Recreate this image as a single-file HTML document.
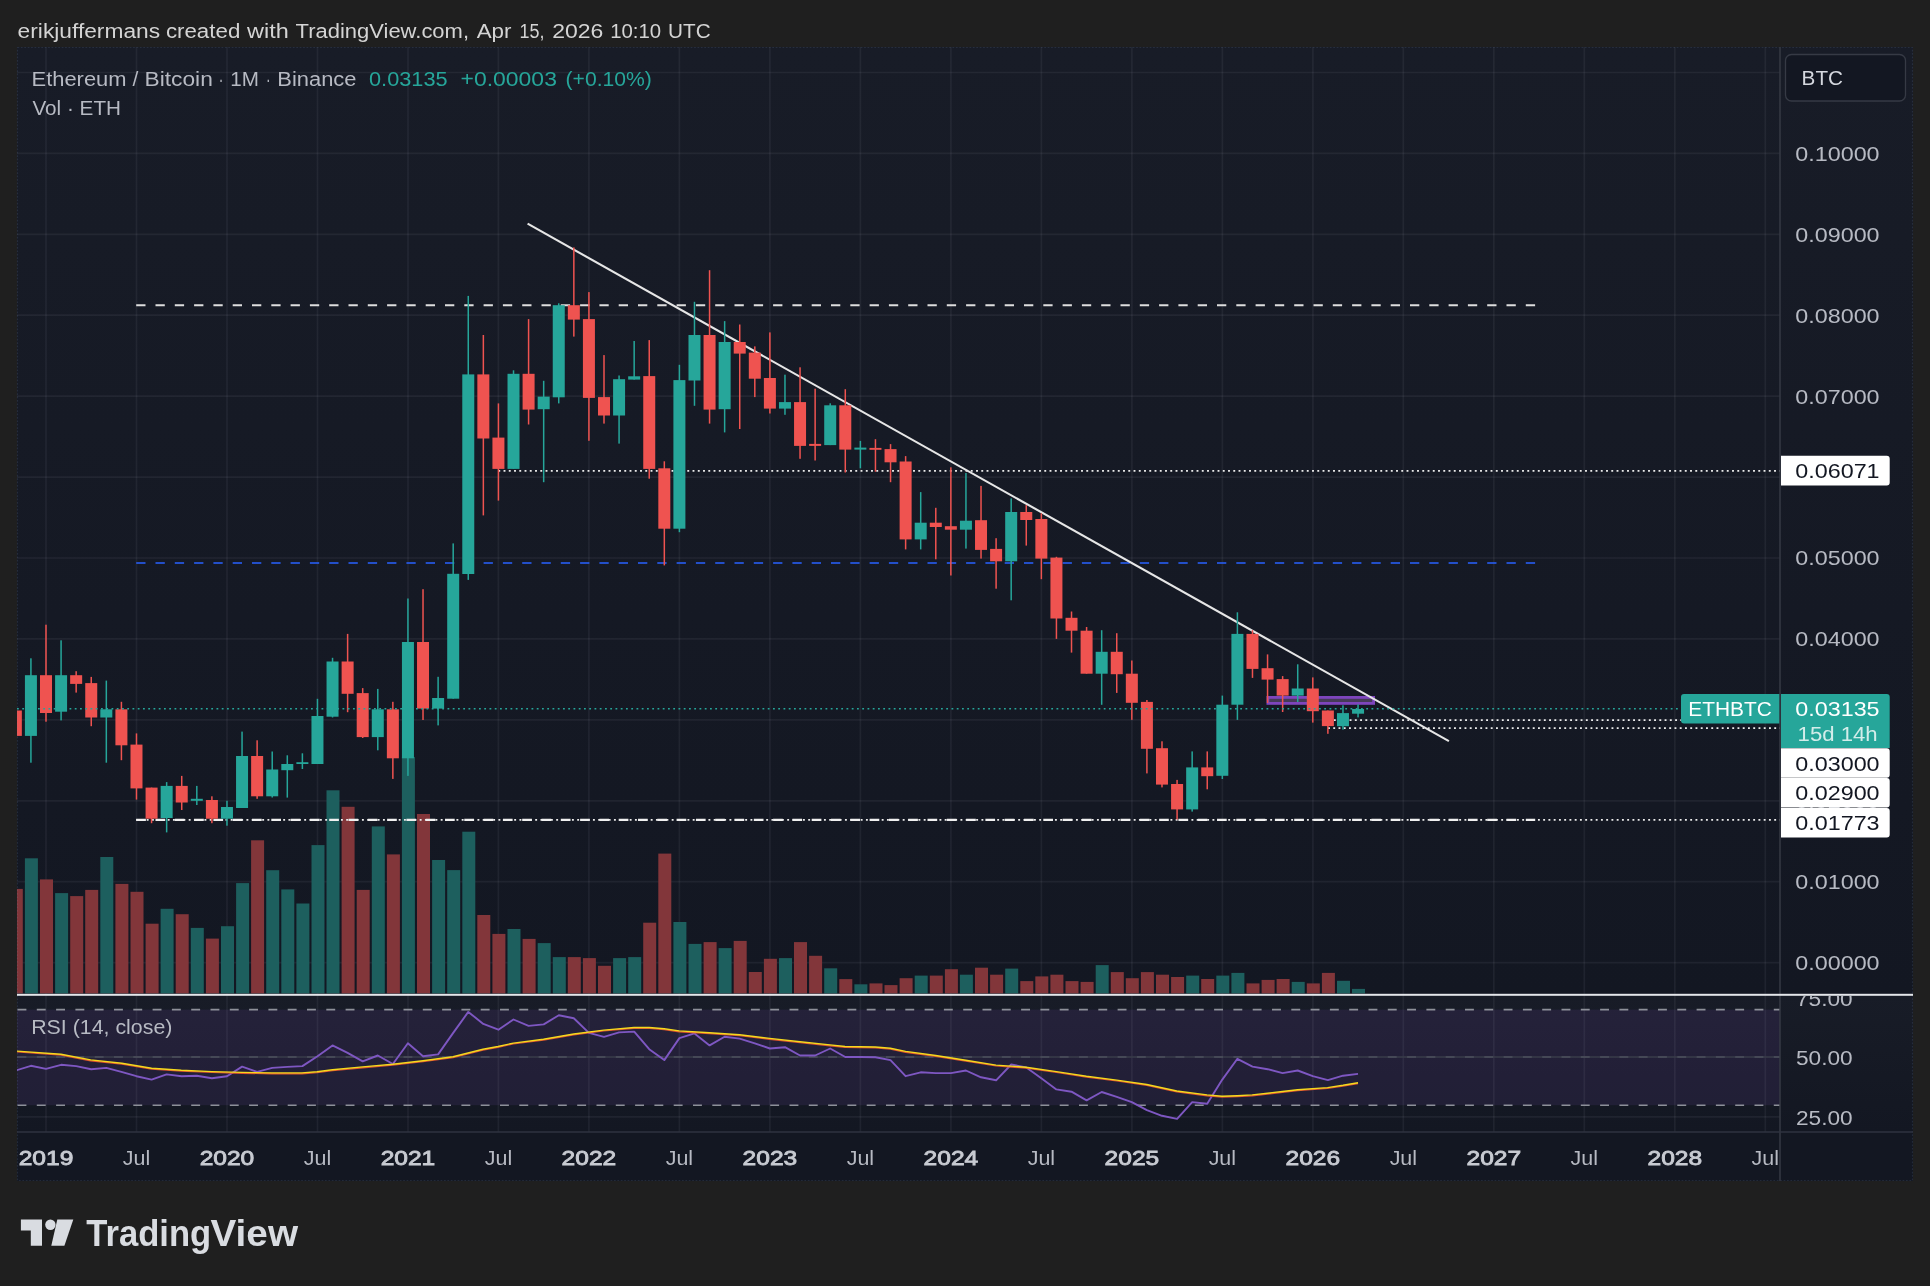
<!DOCTYPE html>
<html><head><meta charset="utf-8"><title>ETHBTC chart</title><style>html,body{margin:0;padding:0;background:#1f1f1f;overflow:hidden}svg{display:block;will-change:transform}</style></head>
<body>
<svg width="1930" height="1286" viewBox="0 0 1930 1286" font-family="'Liberation Sans', sans-serif">
<defs><clipPath id="cp"><rect x="17" y="47" width="1763" height="1085"/></clipPath><clipPath id="cr"><rect x="17" y="995.8" width="1896" height="137.20000000000005"/></clipPath><linearGradient id="g1" x1="0" y1="0" x2="0" y2="1"><stop offset="0" stop-color="#181c27"/><stop offset="1" stop-color="#131722"/></linearGradient><linearGradient id="g2" x1="0" y1="0" x2="0" y2="1"><stop offset="0" stop-color="#181c27"/><stop offset="1" stop-color="#131722"/></linearGradient><clipPath id="ct"><rect x="17" y="1132" width="1763" height="49"/></clipPath></defs>
<rect width="1930" height="1286" fill="#1f1f1f"/>
<rect x="17" y="47" width="1896" height="1134" fill="#131722"/>
<rect x="17" y="47" width="1896" height="947.8" fill="url(#g1)"/>
<rect x="17" y="994.8" width="1896" height="137.20000000000005" fill="url(#g2)"/>
<rect x="17" y="1009.6" width="1763" height="95.60000000000002" fill="rgba(132,84,194,0.12)"/>
<g stroke="rgba(240,243,250,0.06)" stroke-width="1.7" fill="none">
<path d="M46.0 47V1132"/>
<path d="M136.5 47V1132"/>
<path d="M227.0 47V1132"/>
<path d="M317.5 47V1132"/>
<path d="M408.0 47V1132"/>
<path d="M498.4 47V1132"/>
<path d="M588.9 47V1132"/>
<path d="M679.4 47V1132"/>
<path d="M769.9 47V1132"/>
<path d="M860.4 47V1132"/>
<path d="M950.9 47V1132"/>
<path d="M1041.4 47V1132"/>
<path d="M1131.9 47V1132"/>
<path d="M1222.4 47V1132"/>
<path d="M1312.9 47V1132"/>
<path d="M1403.3 47V1132"/>
<path d="M1493.8 47V1132"/>
<path d="M1584.3 47V1132"/>
<path d="M1674.8 47V1132"/>
<path d="M1765.3 47V1132"/>
<path d="M17 962.6H1780"/>
<path d="M17 881.7H1780"/>
<path d="M17 800.8H1780"/>
<path d="M17 719.8H1780"/>
<path d="M17 638.9H1780"/>
<path d="M17 558.0H1780"/>
<path d="M17 477.1H1780"/>
<path d="M17 396.2H1780"/>
<path d="M17 315.2H1780"/>
<path d="M17 234.3H1780"/>
<path d="M17 153.4H1780"/>
<path d="M17 72.5H1780"/>
<path d="M17 1116.8H1780"/>
</g>
<path d="M17 1057H1780" stroke="#3a3d4a" stroke-width="1.4"/>
<g clip-path="url(#cp)">
<rect x="9.8" y="888.9" width="13" height="104.5" fill="#82363a"/>
<rect x="24.9" y="858.3" width="13" height="135.1" fill="#1d5f5e"/>
<rect x="40.0" y="879.4" width="13" height="114.0" fill="#82363a"/>
<rect x="55.1" y="893.1" width="13" height="100.3" fill="#1d5f5e"/>
<rect x="70.2" y="896.1" width="13" height="97.3" fill="#82363a"/>
<rect x="85.2" y="889.9" width="13" height="103.5" fill="#82363a"/>
<rect x="100.3" y="857.0" width="13" height="136.4" fill="#1d5f5e"/>
<rect x="115.4" y="883.9" width="13" height="109.5" fill="#82363a"/>
<rect x="130.5" y="891.8" width="13" height="101.6" fill="#82363a"/>
<rect x="145.6" y="923.7" width="13" height="69.7" fill="#82363a"/>
<rect x="160.6" y="908.8" width="13" height="84.6" fill="#1d5f5e"/>
<rect x="175.7" y="914.2" width="13" height="79.2" fill="#82363a"/>
<rect x="190.8" y="927.9" width="13" height="65.5" fill="#1d5f5e"/>
<rect x="205.9" y="938.6" width="13" height="54.8" fill="#82363a"/>
<rect x="221.0" y="926.2" width="13" height="67.2" fill="#1d5f5e"/>
<rect x="236.1" y="883.1" width="13" height="110.3" fill="#1d5f5e"/>
<rect x="251.1" y="840.3" width="13" height="153.1" fill="#82363a"/>
<rect x="266.2" y="870.2" width="13" height="123.2" fill="#1d5f5e"/>
<rect x="281.3" y="889.4" width="13" height="104.0" fill="#1d5f5e"/>
<rect x="296.4" y="903.5" width="13" height="89.9" fill="#1d5f5e"/>
<rect x="311.5" y="845.1" width="13" height="148.3" fill="#1d5f5e"/>
<rect x="326.5" y="790.3" width="13" height="203.1" fill="#1d5f5e"/>
<rect x="341.6" y="806.8" width="13" height="186.6" fill="#82363a"/>
<rect x="356.7" y="889.9" width="13" height="103.5" fill="#82363a"/>
<rect x="371.8" y="826.4" width="13" height="167.0" fill="#1d5f5e"/>
<rect x="386.9" y="854.4" width="13" height="139.0" fill="#82363a"/>
<rect x="401.9" y="757.0" width="13" height="236.4" fill="#1d5f5e"/>
<rect x="417.0" y="814.0" width="13" height="179.4" fill="#82363a"/>
<rect x="432.1" y="860.0" width="13" height="133.4" fill="#1d5f5e"/>
<rect x="447.2" y="870.1" width="13" height="123.3" fill="#1d5f5e"/>
<rect x="462.3" y="831.7" width="13" height="161.7" fill="#1d5f5e"/>
<rect x="477.3" y="915.0" width="13" height="78.4" fill="#82363a"/>
<rect x="492.4" y="933.9" width="13" height="59.5" fill="#82363a"/>
<rect x="507.5" y="929.0" width="13" height="64.4" fill="#1d5f5e"/>
<rect x="522.6" y="938.9" width="13" height="54.5" fill="#82363a"/>
<rect x="537.7" y="943.1" width="13" height="50.3" fill="#1d5f5e"/>
<rect x="552.8" y="957.1" width="13" height="36.3" fill="#1d5f5e"/>
<rect x="567.8" y="957.1" width="13" height="36.3" fill="#82363a"/>
<rect x="582.9" y="958.1" width="13" height="35.3" fill="#82363a"/>
<rect x="598.0" y="965.8" width="13" height="27.6" fill="#82363a"/>
<rect x="613.1" y="958.1" width="13" height="35.3" fill="#1d5f5e"/>
<rect x="628.2" y="957.1" width="13" height="36.3" fill="#1d5f5e"/>
<rect x="643.2" y="922.7" width="13" height="70.7" fill="#82363a"/>
<rect x="658.3" y="853.6" width="13" height="139.8" fill="#82363a"/>
<rect x="673.4" y="922.0" width="13" height="71.4" fill="#1d5f5e"/>
<rect x="688.5" y="943.9" width="13" height="49.5" fill="#1d5f5e"/>
<rect x="703.6" y="942.1" width="13" height="51.3" fill="#82363a"/>
<rect x="718.6" y="948.1" width="13" height="45.3" fill="#1d5f5e"/>
<rect x="733.7" y="940.9" width="13" height="52.5" fill="#82363a"/>
<rect x="748.8" y="972.0" width="13" height="21.4" fill="#82363a"/>
<rect x="763.9" y="958.8" width="13" height="34.6" fill="#82363a"/>
<rect x="779.0" y="958.1" width="13" height="35.3" fill="#1d5f5e"/>
<rect x="794.0" y="942.1" width="13" height="51.3" fill="#82363a"/>
<rect x="809.1" y="955.8" width="13" height="37.6" fill="#82363a"/>
<rect x="824.2" y="968.3" width="13" height="25.1" fill="#1d5f5e"/>
<rect x="839.3" y="979.1" width="13" height="14.3" fill="#82363a"/>
<rect x="854.4" y="984.3" width="13" height="9.1" fill="#1d5f5e"/>
<rect x="869.5" y="983.4" width="13" height="10.0" fill="#82363a"/>
<rect x="884.5" y="985.1" width="13" height="8.3" fill="#82363a"/>
<rect x="899.6" y="978.2" width="13" height="15.2" fill="#82363a"/>
<rect x="914.7" y="975.6" width="13" height="17.8" fill="#1d5f5e"/>
<rect x="929.8" y="975.6" width="13" height="17.8" fill="#82363a"/>
<rect x="944.9" y="969.2" width="13" height="24.2" fill="#82363a"/>
<rect x="959.9" y="974.7" width="13" height="18.7" fill="#1d5f5e"/>
<rect x="975.0" y="967.7" width="13" height="25.7" fill="#82363a"/>
<rect x="990.1" y="974.7" width="13" height="18.7" fill="#82363a"/>
<rect x="1005.2" y="968.6" width="13" height="24.8" fill="#1d5f5e"/>
<rect x="1020.3" y="981.1" width="13" height="12.3" fill="#82363a"/>
<rect x="1035.3" y="976.4" width="13" height="17.0" fill="#82363a"/>
<rect x="1050.4" y="974.7" width="13" height="18.7" fill="#82363a"/>
<rect x="1065.5" y="981.1" width="13" height="12.3" fill="#82363a"/>
<rect x="1080.6" y="981.9" width="13" height="11.5" fill="#82363a"/>
<rect x="1095.7" y="965.1" width="13" height="28.3" fill="#1d5f5e"/>
<rect x="1110.8" y="972.1" width="13" height="21.3" fill="#82363a"/>
<rect x="1125.8" y="978.2" width="13" height="15.2" fill="#82363a"/>
<rect x="1140.9" y="972.1" width="13" height="21.3" fill="#82363a"/>
<rect x="1156.0" y="974.7" width="13" height="18.7" fill="#82363a"/>
<rect x="1171.1" y="977.0" width="13" height="16.4" fill="#82363a"/>
<rect x="1186.2" y="975.6" width="13" height="17.8" fill="#1d5f5e"/>
<rect x="1201.2" y="979.0" width="13" height="14.4" fill="#82363a"/>
<rect x="1216.3" y="975.6" width="13" height="17.8" fill="#1d5f5e"/>
<rect x="1231.4" y="972.9" width="13" height="20.5" fill="#1d5f5e"/>
<rect x="1246.5" y="983.4" width="13" height="10.0" fill="#82363a"/>
<rect x="1261.6" y="979.9" width="13" height="13.5" fill="#82363a"/>
<rect x="1276.6" y="979.0" width="13" height="14.4" fill="#82363a"/>
<rect x="1291.7" y="981.9" width="13" height="11.5" fill="#1d5f5e"/>
<rect x="1306.8" y="983.4" width="13" height="10.0" fill="#82363a"/>
<rect x="1321.9" y="972.9" width="13" height="20.5" fill="#82363a"/>
<rect x="1337.0" y="980.8" width="13" height="12.6" fill="#1d5f5e"/>
<rect x="1352.0" y="988.9" width="13" height="4.5" fill="#1d5f5e"/>
</g>
<g clip-path="url(#cp)" fill="none">
<path d="M136.2 305.3H1535.2" stroke="#dedede" stroke-width="2" stroke-dasharray="9.3 10"/>
<path d="M136.2 563H1535.2" stroke="#2962ff" stroke-width="1.6" stroke-dasharray="9.3 10"/>
<path d="M136.2 819.9H1781" stroke="#ececec" stroke-width="1.9" stroke-dasharray="1.9 3.35"/>
<path d="M136.2 819.9H1535.2" stroke="#f0f0f0" stroke-width="2.4" stroke-dasharray="9.7 9.6"/>
<path d="M498.3 470.9H1781" stroke="#ececec" stroke-width="1.9" stroke-dasharray="1.9 3.35"/>
<path d="M1328.6 720.1H1781" stroke="#ececec" stroke-width="1.9" stroke-dasharray="1.9 3.35"/>
<path d="M1328 728.1H1781" stroke="#ececec" stroke-width="1.9" stroke-dasharray="1.9 3.35"/>
<rect x="1267.9" y="697.4" width="105.7" height="6" fill="#463b59" stroke="#7e45bd" stroke-width="2.8"/>
<path d="M527.6 223.7L1448.9 741.1" stroke="#e6e6e6" stroke-width="2.1"/>
</g>
<g clip-path="url(#cp)">
<rect x="15.09" y="710.5" width="1.5" height="25.4" fill="#ef5350"/>
<rect x="9.84" y="710.5" width="12" height="25.4" fill="#ef5350"/>
<rect x="30.17" y="658.3" width="1.5" height="104.4" fill="#26a69a"/>
<rect x="24.92" y="675.2" width="12" height="60.7" fill="#26a69a"/>
<rect x="45.25" y="624.7" width="1.5" height="97.0" fill="#ef5350"/>
<rect x="40.00" y="675.2" width="12" height="37.8" fill="#ef5350"/>
<rect x="60.33" y="640.3" width="1.5" height="80.1" fill="#26a69a"/>
<rect x="55.08" y="675.2" width="12" height="36.5" fill="#26a69a"/>
<rect x="75.41" y="671.2" width="1.5" height="21.4" fill="#ef5350"/>
<rect x="70.16" y="675.2" width="12" height="8.7" fill="#ef5350"/>
<rect x="90.49" y="676.9" width="1.5" height="49.3" fill="#ef5350"/>
<rect x="85.24" y="683.1" width="12" height="34.4" fill="#ef5350"/>
<rect x="105.57" y="680.6" width="1.5" height="82.1" fill="#26a69a"/>
<rect x="100.32" y="709.3" width="12" height="8.2" fill="#26a69a"/>
<rect x="120.66" y="701.8" width="1.5" height="58.4" fill="#ef5350"/>
<rect x="115.41" y="709.3" width="12" height="36.0" fill="#ef5350"/>
<rect x="135.74" y="733.4" width="1.5" height="66.2" fill="#ef5350"/>
<rect x="130.49" y="744.6" width="12" height="43.8" fill="#ef5350"/>
<rect x="150.82" y="787.6" width="1.5" height="35.6" fill="#ef5350"/>
<rect x="145.57" y="787.6" width="12" height="31.1" fill="#ef5350"/>
<rect x="165.90" y="782.1" width="1.5" height="50.3" fill="#26a69a"/>
<rect x="160.65" y="785.9" width="12" height="32.1" fill="#26a69a"/>
<rect x="180.98" y="775.9" width="1.5" height="34.1" fill="#ef5350"/>
<rect x="175.73" y="785.9" width="12" height="16.6" fill="#ef5350"/>
<rect x="196.06" y="785.9" width="1.5" height="19.1" fill="#26a69a"/>
<rect x="190.81" y="798.8" width="12" height="2.0" fill="#26a69a"/>
<rect x="211.14" y="796.3" width="1.5" height="26.9" fill="#ef5350"/>
<rect x="205.89" y="800.0" width="12" height="18.7" fill="#ef5350"/>
<rect x="226.22" y="800.8" width="1.5" height="24.9" fill="#26a69a"/>
<rect x="220.97" y="807.0" width="12" height="11.7" fill="#26a69a"/>
<rect x="241.30" y="731.6" width="1.5" height="76.4" fill="#26a69a"/>
<rect x="236.05" y="756.0" width="12" height="52.0" fill="#26a69a"/>
<rect x="256.38" y="740.3" width="1.5" height="58.5" fill="#ef5350"/>
<rect x="251.13" y="756.0" width="12" height="40.3" fill="#ef5350"/>
<rect x="271.47" y="751.5" width="1.5" height="46.0" fill="#26a69a"/>
<rect x="266.22" y="769.5" width="12" height="26.8" fill="#26a69a"/>
<rect x="286.55" y="755.3" width="1.5" height="42.3" fill="#26a69a"/>
<rect x="281.30" y="764.0" width="12" height="6.2" fill="#26a69a"/>
<rect x="301.63" y="753.3" width="1.5" height="15.7" fill="#26a69a"/>
<rect x="296.38" y="762.2" width="12" height="1.8" fill="#26a69a"/>
<rect x="316.71" y="698.8" width="1.5" height="65.2" fill="#26a69a"/>
<rect x="311.46" y="716.0" width="12" height="48.0" fill="#26a69a"/>
<rect x="331.79" y="657.8" width="1.5" height="59.7" fill="#26a69a"/>
<rect x="326.54" y="661.5" width="12" height="55.2" fill="#26a69a"/>
<rect x="346.87" y="633.9" width="1.5" height="78.3" fill="#ef5350"/>
<rect x="341.62" y="661.5" width="12" height="32.3" fill="#ef5350"/>
<rect x="361.95" y="688.1" width="1.5" height="49.9" fill="#ef5350"/>
<rect x="356.70" y="693.1" width="12" height="44.0" fill="#ef5350"/>
<rect x="377.03" y="688.9" width="1.5" height="61.4" fill="#26a69a"/>
<rect x="371.78" y="709.3" width="12" height="27.8" fill="#26a69a"/>
<rect x="392.11" y="701.8" width="1.5" height="77.1" fill="#ef5350"/>
<rect x="386.86" y="709.3" width="12" height="49.0" fill="#ef5350"/>
<rect x="407.19" y="598.5" width="1.5" height="177.4" fill="#26a69a"/>
<rect x="401.94" y="642.0" width="12" height="116.3" fill="#26a69a"/>
<rect x="422.27" y="589.2" width="1.5" height="130.8" fill="#ef5350"/>
<rect x="417.02" y="642.0" width="12" height="66.6" fill="#ef5350"/>
<rect x="437.36" y="676.8" width="1.5" height="48.6" fill="#26a69a"/>
<rect x="432.11" y="698.0" width="12" height="10.6" fill="#26a69a"/>
<rect x="452.44" y="543.4" width="1.5" height="155.3" fill="#26a69a"/>
<rect x="447.19" y="573.8" width="12" height="124.9" fill="#26a69a"/>
<rect x="467.52" y="295.9" width="1.5" height="284.0" fill="#26a69a"/>
<rect x="462.27" y="374.4" width="12" height="199.6" fill="#26a69a"/>
<rect x="482.60" y="335.0" width="1.5" height="180.4" fill="#ef5350"/>
<rect x="477.35" y="374.4" width="12" height="64.1" fill="#ef5350"/>
<rect x="497.68" y="403.4" width="1.5" height="97.2" fill="#ef5350"/>
<rect x="492.43" y="437.6" width="12" height="31.3" fill="#ef5350"/>
<rect x="512.76" y="370.3" width="1.5" height="98.6" fill="#26a69a"/>
<rect x="507.51" y="373.8" width="12" height="95.1" fill="#26a69a"/>
<rect x="527.84" y="319.1" width="1.5" height="105.4" fill="#ef5350"/>
<rect x="522.59" y="373.8" width="12" height="35.8" fill="#ef5350"/>
<rect x="542.92" y="380.8" width="1.5" height="101.4" fill="#26a69a"/>
<rect x="537.67" y="396.6" width="12" height="12.6" fill="#26a69a"/>
<rect x="558.00" y="303.3" width="1.5" height="100.1" fill="#26a69a"/>
<rect x="552.75" y="305.2" width="12" height="92.1" fill="#26a69a"/>
<rect x="573.09" y="247.4" width="1.5" height="89.2" fill="#ef5350"/>
<rect x="567.84" y="305.2" width="12" height="14.4" fill="#ef5350"/>
<rect x="588.17" y="292.1" width="1.5" height="148.7" fill="#ef5350"/>
<rect x="582.92" y="319.1" width="12" height="78.8" fill="#ef5350"/>
<rect x="603.25" y="355.1" width="1.5" height="68.5" fill="#ef5350"/>
<rect x="598.00" y="397.1" width="12" height="18.4" fill="#ef5350"/>
<rect x="618.33" y="375.5" width="1.5" height="68.1" fill="#26a69a"/>
<rect x="613.08" y="379.2" width="12" height="36.3" fill="#26a69a"/>
<rect x="633.41" y="341.0" width="1.5" height="38.6" fill="#26a69a"/>
<rect x="628.16" y="376.3" width="12" height="3.3" fill="#26a69a"/>
<rect x="648.49" y="340.1" width="1.5" height="138.6" fill="#ef5350"/>
<rect x="643.24" y="376.1" width="12" height="92.8" fill="#ef5350"/>
<rect x="663.57" y="461.3" width="1.5" height="104.1" fill="#ef5350"/>
<rect x="658.32" y="468.3" width="12" height="60.4" fill="#ef5350"/>
<rect x="678.65" y="364.8" width="1.5" height="167.4" fill="#26a69a"/>
<rect x="673.40" y="380.1" width="12" height="148.6" fill="#26a69a"/>
<rect x="693.73" y="301.8" width="1.5" height="104.0" fill="#26a69a"/>
<rect x="688.48" y="335.0" width="12" height="45.5" fill="#26a69a"/>
<rect x="708.81" y="270.2" width="1.5" height="153.4" fill="#ef5350"/>
<rect x="703.56" y="335.0" width="12" height="74.6" fill="#ef5350"/>
<rect x="723.89" y="321.1" width="1.5" height="111.3" fill="#26a69a"/>
<rect x="718.64" y="342.0" width="12" height="67.2" fill="#26a69a"/>
<rect x="738.98" y="324.5" width="1.5" height="104.5" fill="#ef5350"/>
<rect x="733.73" y="342.0" width="12" height="11.6" fill="#ef5350"/>
<rect x="754.06" y="346.4" width="1.5" height="50.7" fill="#ef5350"/>
<rect x="748.81" y="352.6" width="12" height="26.1" fill="#ef5350"/>
<rect x="769.14" y="332.4" width="1.5" height="81.1" fill="#ef5350"/>
<rect x="763.89" y="378.0" width="12" height="30.6" fill="#ef5350"/>
<rect x="784.22" y="374.7" width="1.5" height="40.1" fill="#26a69a"/>
<rect x="778.97" y="402.1" width="12" height="6.5" fill="#26a69a"/>
<rect x="799.30" y="367.3" width="1.5" height="91.5" fill="#ef5350"/>
<rect x="794.05" y="402.1" width="12" height="43.8" fill="#ef5350"/>
<rect x="814.38" y="388.7" width="1.5" height="71.8" fill="#ef5350"/>
<rect x="809.13" y="443.9" width="12" height="2.0" fill="#ef5350"/>
<rect x="829.46" y="403.3" width="1.5" height="41.8" fill="#26a69a"/>
<rect x="824.21" y="405.3" width="12" height="39.8" fill="#26a69a"/>
<rect x="844.54" y="389.2" width="1.5" height="83.3" fill="#ef5350"/>
<rect x="839.29" y="405.3" width="12" height="44.3" fill="#ef5350"/>
<rect x="859.62" y="440.9" width="1.5" height="27.4" fill="#26a69a"/>
<rect x="854.37" y="447.6" width="12" height="2.0" fill="#26a69a"/>
<rect x="874.70" y="439.2" width="1.5" height="32.5" fill="#ef5350"/>
<rect x="869.45" y="447.9" width="12" height="1.9" fill="#ef5350"/>
<rect x="889.79" y="444.1" width="1.5" height="38.1" fill="#ef5350"/>
<rect x="884.54" y="449.1" width="12" height="13.2" fill="#ef5350"/>
<rect x="904.87" y="456.1" width="1.5" height="93.3" fill="#ef5350"/>
<rect x="899.62" y="461.5" width="12" height="77.9" fill="#ef5350"/>
<rect x="919.95" y="492.1" width="1.5" height="57.3" fill="#26a69a"/>
<rect x="914.70" y="522.7" width="12" height="16.7" fill="#26a69a"/>
<rect x="935.03" y="507.8" width="1.5" height="51.5" fill="#ef5350"/>
<rect x="929.78" y="522.7" width="12" height="4.3" fill="#ef5350"/>
<rect x="950.11" y="467.3" width="1.5" height="108.2" fill="#ef5350"/>
<rect x="944.86" y="526.2" width="12" height="3.5" fill="#ef5350"/>
<rect x="965.19" y="473.0" width="1.5" height="75.6" fill="#26a69a"/>
<rect x="959.94" y="520.7" width="12" height="9.0" fill="#26a69a"/>
<rect x="980.27" y="485.9" width="1.5" height="72.7" fill="#ef5350"/>
<rect x="975.02" y="520.2" width="12" height="29.7" fill="#ef5350"/>
<rect x="995.35" y="538.2" width="1.5" height="50.5" fill="#ef5350"/>
<rect x="990.10" y="548.9" width="12" height="12.4" fill="#ef5350"/>
<rect x="1010.43" y="498.4" width="1.5" height="101.9" fill="#26a69a"/>
<rect x="1005.18" y="512.0" width="12" height="49.3" fill="#26a69a"/>
<rect x="1025.51" y="505.1" width="1.5" height="40.5" fill="#ef5350"/>
<rect x="1020.26" y="512.0" width="12" height="8.0" fill="#ef5350"/>
<rect x="1040.60" y="513.3" width="1.5" height="65.9" fill="#ef5350"/>
<rect x="1035.35" y="519.0" width="12" height="39.6" fill="#ef5350"/>
<rect x="1055.68" y="556.8" width="1.5" height="82.1" fill="#ef5350"/>
<rect x="1050.43" y="557.6" width="12" height="60.9" fill="#ef5350"/>
<rect x="1070.76" y="611.5" width="1.5" height="41.1" fill="#ef5350"/>
<rect x="1065.51" y="617.8" width="12" height="12.9" fill="#ef5350"/>
<rect x="1085.84" y="627.0" width="1.5" height="46.7" fill="#ef5350"/>
<rect x="1080.59" y="630.7" width="12" height="43.0" fill="#ef5350"/>
<rect x="1100.92" y="630.2" width="1.5" height="74.6" fill="#26a69a"/>
<rect x="1095.67" y="651.8" width="12" height="21.9" fill="#26a69a"/>
<rect x="1116.00" y="633.2" width="1.5" height="59.7" fill="#ef5350"/>
<rect x="1110.75" y="651.8" width="12" height="22.4" fill="#ef5350"/>
<rect x="1131.08" y="660.5" width="1.5" height="59.3" fill="#ef5350"/>
<rect x="1125.83" y="673.7" width="12" height="29.1" fill="#ef5350"/>
<rect x="1146.16" y="700.0" width="1.5" height="73.4" fill="#ef5350"/>
<rect x="1140.91" y="701.9" width="12" height="46.9" fill="#ef5350"/>
<rect x="1161.24" y="741.3" width="1.5" height="46.1" fill="#ef5350"/>
<rect x="1155.99" y="748.2" width="12" height="36.4" fill="#ef5350"/>
<rect x="1176.33" y="779.9" width="1.5" height="39.6" fill="#ef5350"/>
<rect x="1171.08" y="784.0" width="12" height="25.4" fill="#ef5350"/>
<rect x="1191.41" y="751.4" width="1.5" height="60.2" fill="#26a69a"/>
<rect x="1186.16" y="767.4" width="12" height="42.0" fill="#26a69a"/>
<rect x="1206.49" y="751.4" width="1.5" height="37.9" fill="#ef5350"/>
<rect x="1201.24" y="767.4" width="12" height="8.8" fill="#ef5350"/>
<rect x="1221.57" y="695.6" width="1.5" height="83.4" fill="#26a69a"/>
<rect x="1216.32" y="704.7" width="12" height="71.1" fill="#26a69a"/>
<rect x="1236.65" y="612.3" width="1.5" height="107.6" fill="#26a69a"/>
<rect x="1231.40" y="633.9" width="12" height="70.8" fill="#26a69a"/>
<rect x="1251.73" y="630.2" width="1.5" height="47.7" fill="#ef5350"/>
<rect x="1246.48" y="633.9" width="12" height="35.0" fill="#ef5350"/>
<rect x="1266.81" y="654.4" width="1.5" height="48.6" fill="#ef5350"/>
<rect x="1261.56" y="668.2" width="12" height="11.4" fill="#ef5350"/>
<rect x="1281.89" y="676.1" width="1.5" height="35.9" fill="#ef5350"/>
<rect x="1276.64" y="679.1" width="12" height="16.5" fill="#ef5350"/>
<rect x="1296.97" y="664.3" width="1.5" height="37.7" fill="#26a69a"/>
<rect x="1291.72" y="688.5" width="12" height="7.1" fill="#26a69a"/>
<rect x="1312.05" y="677.4" width="1.5" height="45.2" fill="#ef5350"/>
<rect x="1306.80" y="688.5" width="12" height="22.7" fill="#ef5350"/>
<rect x="1327.13" y="710.5" width="1.5" height="23.3" fill="#ef5350"/>
<rect x="1321.88" y="710.5" width="12" height="15.6" fill="#ef5350"/>
<rect x="1342.22" y="705.3" width="1.5" height="24.3" fill="#26a69a"/>
<rect x="1336.97" y="713.1" width="12" height="13.1" fill="#26a69a"/>
<rect x="1357.30" y="704.4" width="1.5" height="13.0" fill="#26a69a"/>
<rect x="1352.05" y="709.0" width="12" height="4.7" fill="#26a69a"/>
</g>
<path d="M17 708.8H1781" stroke="#26a69a" stroke-width="1.4" stroke-dasharray="1.8 3.45" fill="none"/>
<g clip-path="url(#cp)" fill="none">
<path d="M17 1009.6H1780" stroke="#8d9099" stroke-width="1.6" stroke-dasharray="8.9 10.4" stroke-dashoffset="-0.5"/>
<path d="M17 1105.2H1780" stroke="#8d9099" stroke-width="1.6" stroke-dasharray="8.9 10.4" stroke-dashoffset="-0.5"/>
<path d="M17 1057H1780" stroke="#4c4f5c" stroke-width="1.4" stroke-dasharray="8.9 10.4" stroke-dashoffset="-0.5"/>
<polyline points="15.8,1070.5 30.9,1065.8 46.0,1068.9 61.1,1064.8 76.2,1066.1 91.2,1069.2 106.3,1067.9 121.4,1071.8 136.5,1076.2 151.6,1079.6 166.6,1074.4 181.7,1076.2 196.8,1075.7 211.9,1078.3 227.0,1076.2 242.1,1066.6 257.1,1071.8 272.2,1067.9 287.3,1066.9 302.4,1066.1 317.5,1056.2 332.5,1045.4 347.6,1052.9 362.7,1061.4 377.8,1055.5 392.9,1064.0 407.9,1043.3 423.0,1056.2 438.1,1054.4 453.2,1032.9 468.3,1011.9 483.3,1023.9 498.4,1029.7 513.5,1019.5 528.6,1025.9 543.7,1024.4 558.8,1015.3 573.8,1018.2 588.9,1032.9 604.0,1036.8 619.1,1032.4 634.2,1031.6 649.2,1049.2 664.3,1060.1 679.4,1038.1 694.5,1033.4 709.6,1045.4 724.6,1036.8 739.7,1038.6 754.8,1043.3 769.9,1048.5 785.0,1047.2 800.0,1055.5 815.1,1055.5 830.2,1048.5 845.3,1057.0 860.4,1057.0 875.5,1057.3 890.5,1060.1 905.6,1076.2 920.7,1072.3 935.8,1073.1 950.9,1073.1 965.9,1070.5 981.0,1077.3 996.1,1080.3 1011.2,1064.5 1026.3,1067.4 1041.3,1078.3 1056.4,1089.4 1071.5,1091.7 1086.6,1100.3 1101.7,1092.0 1116.8,1096.9 1131.8,1102.1 1146.9,1110.1 1162.0,1115.8 1177.1,1118.9 1192.2,1102.1 1207.2,1103.7 1222.3,1079.6 1237.4,1058.8 1252.5,1066.6 1267.6,1069.2 1282.6,1073.1 1297.7,1070.5 1312.8,1076.2 1327.9,1080.1 1343.0,1075.7 1358.0,1073.9" stroke="#7e57c2" stroke-width="1.9" stroke-linejoin="round"/>
<polyline points="17.0,1051.9 61.0,1055.0 90.7,1060.7 121.8,1064.1 151.6,1069.0 181.3,1071.1 212.0,1072.4 242.0,1073.2 272.0,1073.7 302.0,1073.7 317.0,1072.6 332.5,1070.6 362.7,1067.7 392.8,1065.1 423.0,1061.5 453.0,1057.6 483.0,1050.1 498.0,1047.3 513.4,1043.9 543.5,1040.0 573.8,1034.8 603.8,1030.9 634.1,1028.3 649.2,1028.3 664.2,1029.6 679.2,1031.7 709.5,1033.5 739.6,1035.6 769.6,1039.2 800.0,1042.6 830.0,1045.7 845.0,1047.3 875.3,1047.8 890.4,1049.1 905.6,1052.2 935.7,1056.3 965.8,1061.0 996.0,1065.9 1026.0,1068.0 1056.4,1072.4 1086.4,1077.1 1116.7,1080.9 1146.8,1085.3 1176.8,1091.8 1207.0,1095.7 1222.0,1097.0 1237.2,1096.5 1252.2,1095.7 1282.5,1092.3 1297.6,1090.5 1327.6,1088.4 1343.0,1086.1 1358.0,1083.5" stroke="#e0542e" stroke-width="1.4" stroke-linejoin="round"/>
<polyline points="17.0,1051.1 61.0,1054.2 90.7,1059.9 121.8,1063.3 151.6,1068.2 181.3,1070.3 212.0,1071.6 242.0,1072.4 272.0,1072.9 302.0,1072.9 317.0,1071.8 332.5,1069.8 362.7,1066.9 392.8,1064.3 423.0,1060.7 453.0,1056.8 483.0,1049.3 498.0,1046.5 513.4,1043.1 543.5,1039.2 573.8,1034.0 603.8,1030.1 634.1,1027.5 649.2,1027.5 664.2,1028.8 679.2,1030.9 709.5,1032.7 739.6,1034.8 769.6,1038.4 800.0,1041.8 830.0,1044.9 845.0,1046.5 875.3,1047.0 890.4,1048.3 905.6,1051.4 935.7,1055.5 965.8,1060.2 996.0,1065.1 1026.0,1067.2 1056.4,1071.6 1086.4,1076.3 1116.7,1080.1 1146.8,1084.5 1176.8,1091.0 1207.0,1094.9 1222.0,1096.2 1237.2,1095.7 1252.2,1094.9 1282.5,1091.5 1297.6,1089.7 1327.6,1087.6 1343.0,1085.3 1358.0,1082.7" stroke="#f4d91e" stroke-width="1.4" stroke-linejoin="round"/>
</g>
<rect x="17.5" y="47.5" width="1895" height="1133" fill="none" stroke="rgba(120,140,180,0.16)" stroke-width="1.2" stroke-dasharray="1.7 1.7"/>
<path d="M1780 47V1181" stroke="#363a45" stroke-width="1.5"/>
<path d="M17 1132H1913" stroke="#2f3340" stroke-width="1.4"/>
<rect x="17" y="993.8" width="1896" height="2" fill="#e4e6ea"/>
<text x="1795.3" y="970.0" font-size="21" fill="#b7bac3" textLength="84.3" lengthAdjust="spacingAndGlyphs" >0.00000</text>
<text x="1795.3" y="889.1" font-size="21" fill="#b7bac3" textLength="84.3" lengthAdjust="spacingAndGlyphs" >0.01000</text>
<text x="1795.3" y="808.2" font-size="21" fill="#b7bac3" textLength="84.3" lengthAdjust="spacingAndGlyphs" >0.02000</text>
<text x="1795.3" y="727.2" font-size="21" fill="#b7bac3" textLength="84.3" lengthAdjust="spacingAndGlyphs" >0.03000</text>
<text x="1795.3" y="646.3" font-size="21" fill="#b7bac3" textLength="84.3" lengthAdjust="spacingAndGlyphs" >0.04000</text>
<text x="1795.3" y="565.4" font-size="21" fill="#b7bac3" textLength="84.3" lengthAdjust="spacingAndGlyphs" >0.05000</text>
<text x="1795.3" y="484.5" font-size="21" fill="#b7bac3" textLength="84.3" lengthAdjust="spacingAndGlyphs" >0.06000</text>
<text x="1795.3" y="403.6" font-size="21" fill="#b7bac3" textLength="84.3" lengthAdjust="spacingAndGlyphs" >0.07000</text>
<text x="1795.3" y="322.6" font-size="21" fill="#b7bac3" textLength="84.3" lengthAdjust="spacingAndGlyphs" >0.08000</text>
<text x="1795.3" y="241.7" font-size="21" fill="#b7bac3" textLength="84.3" lengthAdjust="spacingAndGlyphs" >0.09000</text>
<text x="1795.3" y="160.8" font-size="21" fill="#b7bac3" textLength="84.3" lengthAdjust="spacingAndGlyphs" >0.10000</text>
<g clip-path="url(#cr)">
<text x="1796" y="1006.3" font-size="20.5" fill="#b7bac3" textLength="56.7" lengthAdjust="spacingAndGlyphs" >75.00</text>
</g>
<text x="1796" y="1065" font-size="20.5" fill="#b7bac3" textLength="56.7" lengthAdjust="spacingAndGlyphs" >50.00</text>
<text x="1796" y="1124.6" font-size="20.5" fill="#b7bac3" textLength="56.7" lengthAdjust="spacingAndGlyphs" >25.00</text>
<rect x="1785.5" y="54.5" width="120" height="46.5" rx="6" fill="#131722" stroke="#363a45" stroke-width="1.3"/>
<text x="1801.6" y="84.8" font-size="20.5" fill="#d5d8df" textLength="41.4" lengthAdjust="spacingAndGlyphs" >BTC</text>
<path d="M1684 694H1779.3V723.5H1684a3 3 0 0 1-3-3V697a3 3 0 0 1 3-3Z" fill="#26a69a"/>
<text x="1688.3" y="716.3" font-size="20.5" fill="#ffffff" textLength="83.6" lengthAdjust="spacingAndGlyphs" >ETHBTC</text>
<path d="M1781 694H1886.7a3 3 0 0 1 3 3V748H1781Z" fill="#26a69a"/>
<text x="1795.3" y="716.4" font-size="21" fill="#ffffff" textLength="84.3" lengthAdjust="spacingAndGlyphs" >0.03135</text>
<text x="1797.6" y="741" font-size="20.5" fill="#d3edea" textLength="80" lengthAdjust="spacingAndGlyphs" >15d 14h</text>
<path d="M1781 455.8H1886.7a3 3 0 0 1 3 3V482.40000000000003a3 3 0 0 1-3 3H1781Z" fill="#ffffff"/>
<text x="1795.3" y="478.2" font-size="21" fill="#131722" textLength="84.3" lengthAdjust="spacingAndGlyphs" >0.06071</text>
<path d="M1781 748.2H1886.7a3 3 0 0 1 3 3V774.8000000000001a3 3 0 0 1-3 3H1781Z" fill="#ffffff"/>
<text x="1795.3" y="770.6" font-size="21" fill="#131722" textLength="84.3" lengthAdjust="spacingAndGlyphs" >0.03000</text>
<path d="M1781 778H1886.7a3 3 0 0 1 3 3V804.6a3 3 0 0 1-3 3H1781Z" fill="#ffffff"/>
<text x="1795.3" y="800.4" font-size="21" fill="#131722" textLength="84.3" lengthAdjust="spacingAndGlyphs" >0.02900</text>
<path d="M1781 807.9H1886.7a3 3 0 0 1 3 3V834.5a3 3 0 0 1-3 3H1781Z" fill="#ffffff"/>
<text x="1795.3" y="830.3" font-size="21" fill="#131722" textLength="84.3" lengthAdjust="spacingAndGlyphs" >0.01773</text>
<g clip-path="url(#ct)">
<text x="46.0" y="1165.2" font-size="21" fill="#c8cbd2" textLength="54.6" lengthAdjust="spacingAndGlyphs" text-anchor="middle" stroke="#c8cbd2" stroke-width="0.85">2019</text>
<text x="136.49" y="1165.2" font-size="20.5" fill="#b7bac3" textLength="27.4" lengthAdjust="spacingAndGlyphs" text-anchor="middle" >Jul</text>
<text x="226.98" y="1165.2" font-size="21" fill="#c8cbd2" textLength="54.6" lengthAdjust="spacingAndGlyphs" text-anchor="middle" stroke="#c8cbd2" stroke-width="0.85">2020</text>
<text x="317.46999999999997" y="1165.2" font-size="20.5" fill="#b7bac3" textLength="27.4" lengthAdjust="spacingAndGlyphs" text-anchor="middle" >Jul</text>
<text x="407.96" y="1165.2" font-size="21" fill="#c8cbd2" textLength="54.6" lengthAdjust="spacingAndGlyphs" text-anchor="middle" stroke="#c8cbd2" stroke-width="0.85">2021</text>
<text x="498.45" y="1165.2" font-size="20.5" fill="#b7bac3" textLength="27.4" lengthAdjust="spacingAndGlyphs" text-anchor="middle" >Jul</text>
<text x="588.9399999999999" y="1165.2" font-size="21" fill="#c8cbd2" textLength="54.6" lengthAdjust="spacingAndGlyphs" text-anchor="middle" stroke="#c8cbd2" stroke-width="0.85">2022</text>
<text x="679.43" y="1165.2" font-size="20.5" fill="#b7bac3" textLength="27.4" lengthAdjust="spacingAndGlyphs" text-anchor="middle" >Jul</text>
<text x="769.92" y="1165.2" font-size="21" fill="#c8cbd2" textLength="54.6" lengthAdjust="spacingAndGlyphs" text-anchor="middle" stroke="#c8cbd2" stroke-width="0.85">2023</text>
<text x="860.41" y="1165.2" font-size="20.5" fill="#b7bac3" textLength="27.4" lengthAdjust="spacingAndGlyphs" text-anchor="middle" >Jul</text>
<text x="950.9" y="1165.2" font-size="21" fill="#c8cbd2" textLength="54.6" lengthAdjust="spacingAndGlyphs" text-anchor="middle" stroke="#c8cbd2" stroke-width="0.85">2024</text>
<text x="1041.3899999999999" y="1165.2" font-size="20.5" fill="#b7bac3" textLength="27.4" lengthAdjust="spacingAndGlyphs" text-anchor="middle" >Jul</text>
<text x="1131.8799999999999" y="1165.2" font-size="21" fill="#c8cbd2" textLength="54.6" lengthAdjust="spacingAndGlyphs" text-anchor="middle" stroke="#c8cbd2" stroke-width="0.85">2025</text>
<text x="1222.37" y="1165.2" font-size="20.5" fill="#b7bac3" textLength="27.4" lengthAdjust="spacingAndGlyphs" text-anchor="middle" >Jul</text>
<text x="1312.86" y="1165.2" font-size="21" fill="#c8cbd2" textLength="54.6" lengthAdjust="spacingAndGlyphs" text-anchor="middle" stroke="#c8cbd2" stroke-width="0.85">2026</text>
<text x="1403.35" y="1165.2" font-size="20.5" fill="#b7bac3" textLength="27.4" lengthAdjust="spacingAndGlyphs" text-anchor="middle" >Jul</text>
<text x="1493.84" y="1165.2" font-size="21" fill="#c8cbd2" textLength="54.6" lengthAdjust="spacingAndGlyphs" text-anchor="middle" stroke="#c8cbd2" stroke-width="0.85">2027</text>
<text x="1584.33" y="1165.2" font-size="20.5" fill="#b7bac3" textLength="27.4" lengthAdjust="spacingAndGlyphs" text-anchor="middle" >Jul</text>
<text x="1674.82" y="1165.2" font-size="21" fill="#c8cbd2" textLength="54.6" lengthAdjust="spacingAndGlyphs" text-anchor="middle" stroke="#c8cbd2" stroke-width="0.85">2028</text>
<text x="1765.31" y="1165.2" font-size="20.5" fill="#b7bac3" textLength="27.4" lengthAdjust="spacingAndGlyphs" text-anchor="middle" >Jul</text>
</g>
<text x="17.6" y="38.4" font-size="20" fill="#d4d4d4" textLength="142.5" lengthAdjust="spacingAndGlyphs" >erikjuffermans</text>
<text x="165.9" y="38.4" font-size="20" fill="#d4d4d4" textLength="74.4" lengthAdjust="spacingAndGlyphs" >created</text>
<text x="247.1" y="38.4" font-size="20" fill="#d4d4d4" textLength="41.7" lengthAdjust="spacingAndGlyphs" >with</text>
<text x="295.6" y="38.4" font-size="20" fill="#d4d4d4" textLength="173.4" lengthAdjust="spacingAndGlyphs" >TradingView.com,</text>
<text x="476.7" y="38.4" font-size="20" fill="#d4d4d4" textLength="34.8" lengthAdjust="spacingAndGlyphs" >Apr</text>
<text x="519.6" y="38.4" font-size="20" fill="#d4d4d4" textLength="25.0" lengthAdjust="spacingAndGlyphs" >15,</text>
<text x="552.2" y="38.4" font-size="20" fill="#d4d4d4" textLength="51.1" lengthAdjust="spacingAndGlyphs" >2026</text>
<text x="610.2" y="38.4" font-size="20" fill="#d4d4d4" textLength="51.0" lengthAdjust="spacingAndGlyphs" >10:10</text>
<text x="668.0" y="38.4" font-size="20" fill="#d4d4d4" textLength="42.6" lengthAdjust="spacingAndGlyphs" >UTC</text>
<text x="31.6" y="85.6" font-size="20" fill="#b7bac3" textLength="94.9" lengthAdjust="spacingAndGlyphs" >Ethereum</text>
<text x="144.5" y="85.6" font-size="20" fill="#b7bac3" textLength="68.3" lengthAdjust="spacingAndGlyphs" >Bitcoin</text>
<text x="218.7" y="85.6" font-size="20" fill="#b7bac3" textLength="4.6" lengthAdjust="spacingAndGlyphs" >·</text>
<text x="230.2" y="85.6" font-size="20" fill="#b7bac3" textLength="28.7" lengthAdjust="spacingAndGlyphs" >1M</text>
<text x="266.1" y="85.6" font-size="20" fill="#b7bac3" textLength="4.6" lengthAdjust="spacingAndGlyphs" >·</text>
<text x="277.3" y="85.6" font-size="20" fill="#b7bac3" textLength="79.2" lengthAdjust="spacingAndGlyphs" >Binance</text>
<text x="132.6" y="85.6" font-size="21" fill="#b7bac3" >/</text>
<text x="369" y="85.6" font-size="20" fill="#26a69a" textLength="78.6" lengthAdjust="spacingAndGlyphs" >0.03135</text>
<text x="460.6" y="85.6" font-size="20" fill="#26a69a" textLength="96.3" lengthAdjust="spacingAndGlyphs" >+0.00003</text>
<text x="565.6" y="85.6" font-size="20" fill="#26a69a" textLength="86.2" lengthAdjust="spacingAndGlyphs" >(+0.10%)</text>
<text x="32.4" y="115.4" font-size="20" fill="#b7bac3" textLength="88.6" lengthAdjust="spacingAndGlyphs" >Vol · ETH</text>
<text x="31.2" y="1034.2" font-size="20" fill="#b7bac3" textLength="141.2" lengthAdjust="spacingAndGlyphs" >RSI (14, close)</text>
<path d="M20.9 1219.6H42V1245.7H30.8V1230.4H20.9Z" fill="#d9dce1"/>
<circle cx="50.4" cy="1224.8" r="5.2" fill="#d9dce1"/>
<path d="M57.3 1219.6H73.3L64.4 1245.7H51.3Z" fill="#d9dce1"/>
<text x="86.2" y="1245.7" font-size="37" fill="#d9dce1" textLength="125" lengthAdjust="spacingAndGlyphs" font-weight="bold" >Trading</text>
<text x="210.5" y="1245.7" font-size="37" fill="#d9dce1" textLength="87.5" lengthAdjust="spacingAndGlyphs" font-weight="bold" >View</text>
</svg>
</body></html>
